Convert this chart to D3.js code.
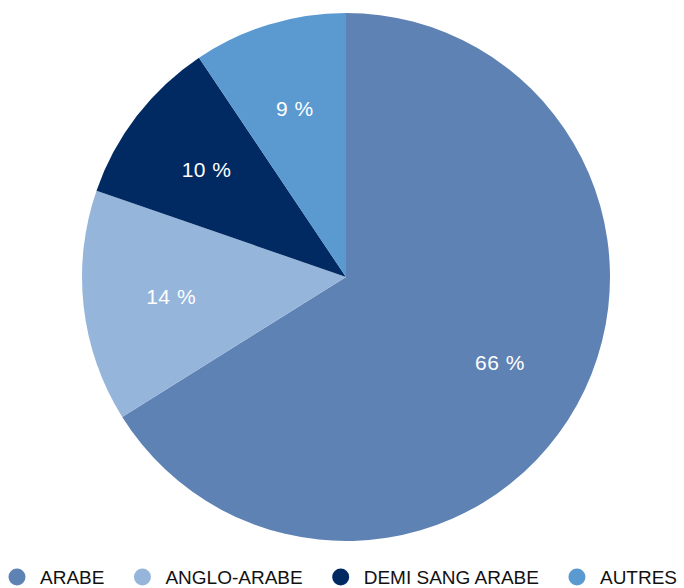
<!DOCTYPE html>
<html>
<head>
<meta charset="utf-8">
<script src="https://cdn.jsdelivr.net/npm/d3@7"></script>
<style>
  body { margin: 0; background: #fff; }
  svg { display: block; font-family: "Liberation Sans", Arial, sans-serif; }
</style>
</head>
<body>
<div id="chart"></div>
<script>
const categories = ["ARABE", "ANGLO-ARABE", "DEMI SANG ARABE", "AUTRES"];
const values = [66.1, 14.2, 10.3, 9.4];
const labels = ["66 %", "14 %", "10 %", "9 %"];
const colors = ["#5e82b3", "#95b5db", "#012a62", "#5b99d1"];

const width = 684, height = 588;
const cx = 346, cy = 277, radius = 264;

const svg = d3.select("#chart").append("svg")
    .attr("width", width)
    .attr("height", height);

const data = categories.map((c, i) => ({ name: c, value: values[i], label: labels[i], color: colors[i] }));

const pie = d3.pie().value(d => d.value).sort(null);
const arc = d3.arc().innerRadius(0).outerRadius(radius);
const labelArc = d3.arc().innerRadius(176).outerRadius(176);

const g = svg.append("g").attr("transform", `translate(${cx}, ${cy})`);

g.selectAll(".slice")
    .data(pie(data))
    .join("path")
    .attr("class", "slice")
    .attr("d", arc)
    .attr("fill", d => d.data.color);

g.selectAll(".pct")
    .data(pie(data))
    .join("text")
    .attr("class", "pct")
    .attr("transform", d => `translate(${labelArc.centroid(d)})`)
    .attr("text-anchor", "middle")
    .attr("dy", "0.35em")
    .style("font-size", "21px")
    .style("letter-spacing", "0.5px")
    .style("fill", "#fff")
    .text(d => d.data.label);

// legend, laid out from measured text widths
const legend = svg.append("g").attr("transform", "translate(0, 577)");
let x = 17;
data.forEach(d => {
    legend.append("circle")
        .attr("cx", x)
        .attr("cy", 0)
        .attr("r", 8.5)
        .attr("fill", d.color);
    const t = legend.append("text")
        .attr("x", x + 23)
        .attr("y", 0)
        .attr("dy", "0.35em")
        .style("font-size", "19px")
        .style("fill", "#111")
        .text(d.name);
    x = x + 23 + t.node().getComputedTextLength() + 38;
});
</script>
</body>
</html>
